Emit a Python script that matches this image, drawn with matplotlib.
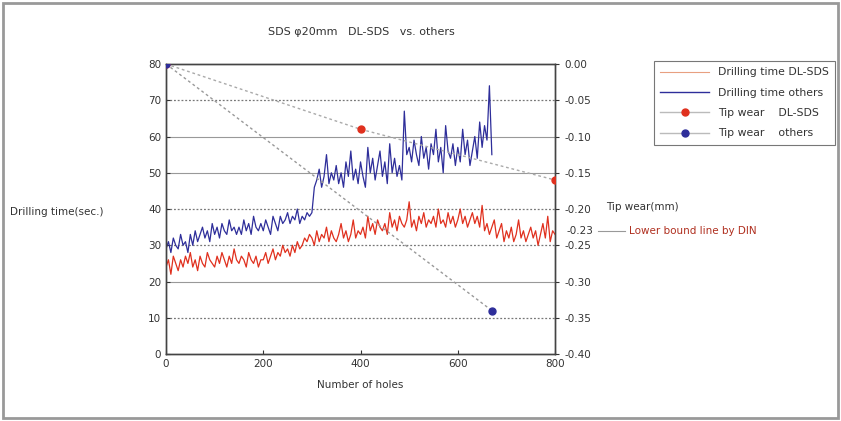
import numpy as np
import matplotlib.pyplot as plt
from matplotlib.lines import Line2D
from matplotlib.patches import Rectangle

# drilling time (sec.) read every 5 holes
holes_dl = list(range(0, 805, 5))
time_dl = [24, 26, 22, 27, 25, 23, 26, 24, 27, 25,
           28, 24, 26, 23, 27, 25, 24, 28, 26, 25,
           24, 27, 25, 28, 26, 24, 27, 25, 29, 26,
           25, 27, 26, 24, 28, 26, 25, 27, 24, 26,
           26, 28, 25, 27, 29, 26, 28, 27, 30, 28,
           29, 27, 30, 28, 31, 29, 30, 32, 31, 33,
           32, 30, 34, 31, 33, 32, 35, 31, 34, 32,
           31, 33, 36, 32, 34, 31, 33, 37, 32, 34,
           33, 35, 32, 38, 34, 36, 33, 37, 35, 34,
           36, 33, 39, 35, 37, 34, 38, 36, 35, 37,
           42, 35, 37, 34, 38, 36, 39, 35, 37, 36,
           38, 35, 40, 36, 37, 35, 39, 36, 38, 35,
           37, 40, 36, 38, 35, 37, 39, 36, 38, 35,
           41, 34, 36, 33, 35, 37, 32, 34, 36, 31,
           34, 32, 35, 31, 33, 37, 32, 34, 31, 33,
           35, 32, 34, 30, 33, 36, 32, 38, 31, 34,
           33]

holes_ot = list(range(0, 675, 5))
time_ot = [29, 31, 28, 32, 30, 29, 33, 30, 31, 28,
           33, 30, 34, 31, 33, 35, 32, 34, 31, 36,
           33, 35, 32, 36, 34, 33, 37, 34, 35, 33,
           35, 33, 37, 34, 36, 33, 38, 35, 34, 36,
           34, 37, 35, 33, 38, 36, 34, 38, 36, 37,
           39, 36, 38, 37, 40, 36, 38, 37, 39, 38,
           39, 46, 48, 51, 46, 49, 55, 47, 50, 48,
           52, 47, 50, 46, 53, 49, 56, 48, 51, 47,
           53, 49, 46, 57, 50, 54, 48, 52, 56, 49,
           53, 47, 58, 50, 54, 49, 52, 48, 67, 55,
           57, 53, 59, 55, 52, 60, 54, 57, 51, 58,
           55, 62, 53, 57, 50, 63, 56, 54, 58, 52,
           57, 53, 62, 55, 59, 52, 56, 60, 54, 64,
           57, 63, 59, 74, 55]

# tip wear (mm)
wear_holes_dl = [0, 400, 800]
wear_dl = [0.0, -0.09, -0.16]
wear_holes_ot = [0, 670]
wear_ot = [0.0, -0.34]

din_limit = -0.23

red = "#e0301e"
blue = "#2e2e9a"
txt = "#333333"

fig = plt.figure(figsize=(8.41, 4.21), dpi=100)
fig.patches.append(Rectangle((0.004, 0.007), 0.992, 0.986, transform=fig.transFigure,
                             fill=False, edgecolor="#999999", linewidth=2))

ax = fig.add_axes([0.1974, 0.159, 0.4626, 0.689])
ax.set_xlim(0, 800)
ax.set_ylim(0, 80)
ax.set_yticks(range(0, 90, 10))
ax.set_xticks(range(0, 900, 200))
for v in range(10, 80, 10):
    if v in (70, 40, 30, 10):
        ax.axhline(v, color="#777777", linewidth=0.9, linestyle=(0, (1.5, 1.5)), zorder=0)
    else:
        ax.axhline(v, color="#999999", linewidth=0.8, zorder=0)

ax.plot(holes_dl, time_dl, color=red, linewidth=0.9, zorder=3)
ax.plot(holes_ot, time_ot, color=blue, linewidth=0.9, zorder=2)

ax2 = ax.twinx()
ax2.set_ylim(-0.40, 0.0)
ax2.set_yticks(np.arange(-0.40, 0.001, 0.05))
ax2.set_yticklabels(["%.2f" % v if abs(v) > 1e-9 else "0.00" for v in np.arange(-0.40, 0.001, 0.05)])
ax2.plot(wear_holes_dl, wear_dl, color="#aaaaaa", linewidth=1.0, linestyle=(0, (2, 2)),
         marker="o", markersize=5, markerfacecolor=red, markeredgecolor=red, zorder=4)
ax2.plot(wear_holes_ot, wear_ot, color="#999999", linewidth=1.0, linestyle=(0, (2, 2)),
         marker="o", markersize=5, markerfacecolor=blue, markeredgecolor=blue, zorder=4)

for a in (ax, ax2):
    a.tick_params(labelsize=7.5, colors=txt, length=3, width=0.8)
    for s in a.spines.values():
        s.set_color("#444444")
        s.set_linewidth(1.0)
ax.tick_params(axis="both", direction="in")
ax.set_xlabel("Number of holes", fontsize=7.5, color=txt, labelpad=8)

# axis titles placed horizontally as in the original
fig.text(0.012, 0.497, "Drilling time(sec.)", fontsize=7.5, color=txt, va="center")
fig.text(0.721, 0.509, "Tip wear(mm)", fontsize=7.5, color=txt, va="center")
fig.text(0.43, 0.918, "SDS \u03c620mm   DL-SDS   vs. others", fontsize=8, color=txt, ha="center")

# DIN lower bound marker
ax2.text(1.03, din_limit, "-0.23", transform=ax2.get_yaxis_transform(), fontsize=7.5,
         color=txt, va="center")
ax2.plot([1.11, 1.18], [din_limit, din_limit], transform=ax2.get_yaxis_transform(),
         color="#999999", linewidth=0.8, clip_on=False)
ax2.text(1.19, din_limit, "Lower bound line by DIN", transform=ax2.get_yaxis_transform(),
         fontsize=7.5, color="#b03020", va="center")

handles = [
    Line2D([], [], color="#e8a080", linewidth=0.8),
    Line2D([], [], color=blue, linewidth=1.0),
    Line2D([], [], color="#bbbbbb", linewidth=1.0, marker="o", markersize=5,
           markerfacecolor=red, markeredgecolor=red),
    Line2D([], [], color="#bbbbbb", linewidth=1.0, marker="o", markersize=5,
           markerfacecolor=blue, markeredgecolor=blue),
]
labels = ["Drilling time DL-SDS", "Drilling time others",
          "Tip wear    DL-SDS", "Tip wear    others"]
leg = fig.legend(handles, labels, loc="upper left", bbox_to_anchor=(0.771, 0.868),
                 fontsize=7.8, frameon=True, fancybox=False, edgecolor="#555555",
                 handlelength=4.5, borderpad=0.6, labelspacing=0.95)
leg.get_frame().set_linewidth(0.8)
for t in leg.get_texts():
    t.set_color(txt)

fig.savefig("out.png", dpi=100)
